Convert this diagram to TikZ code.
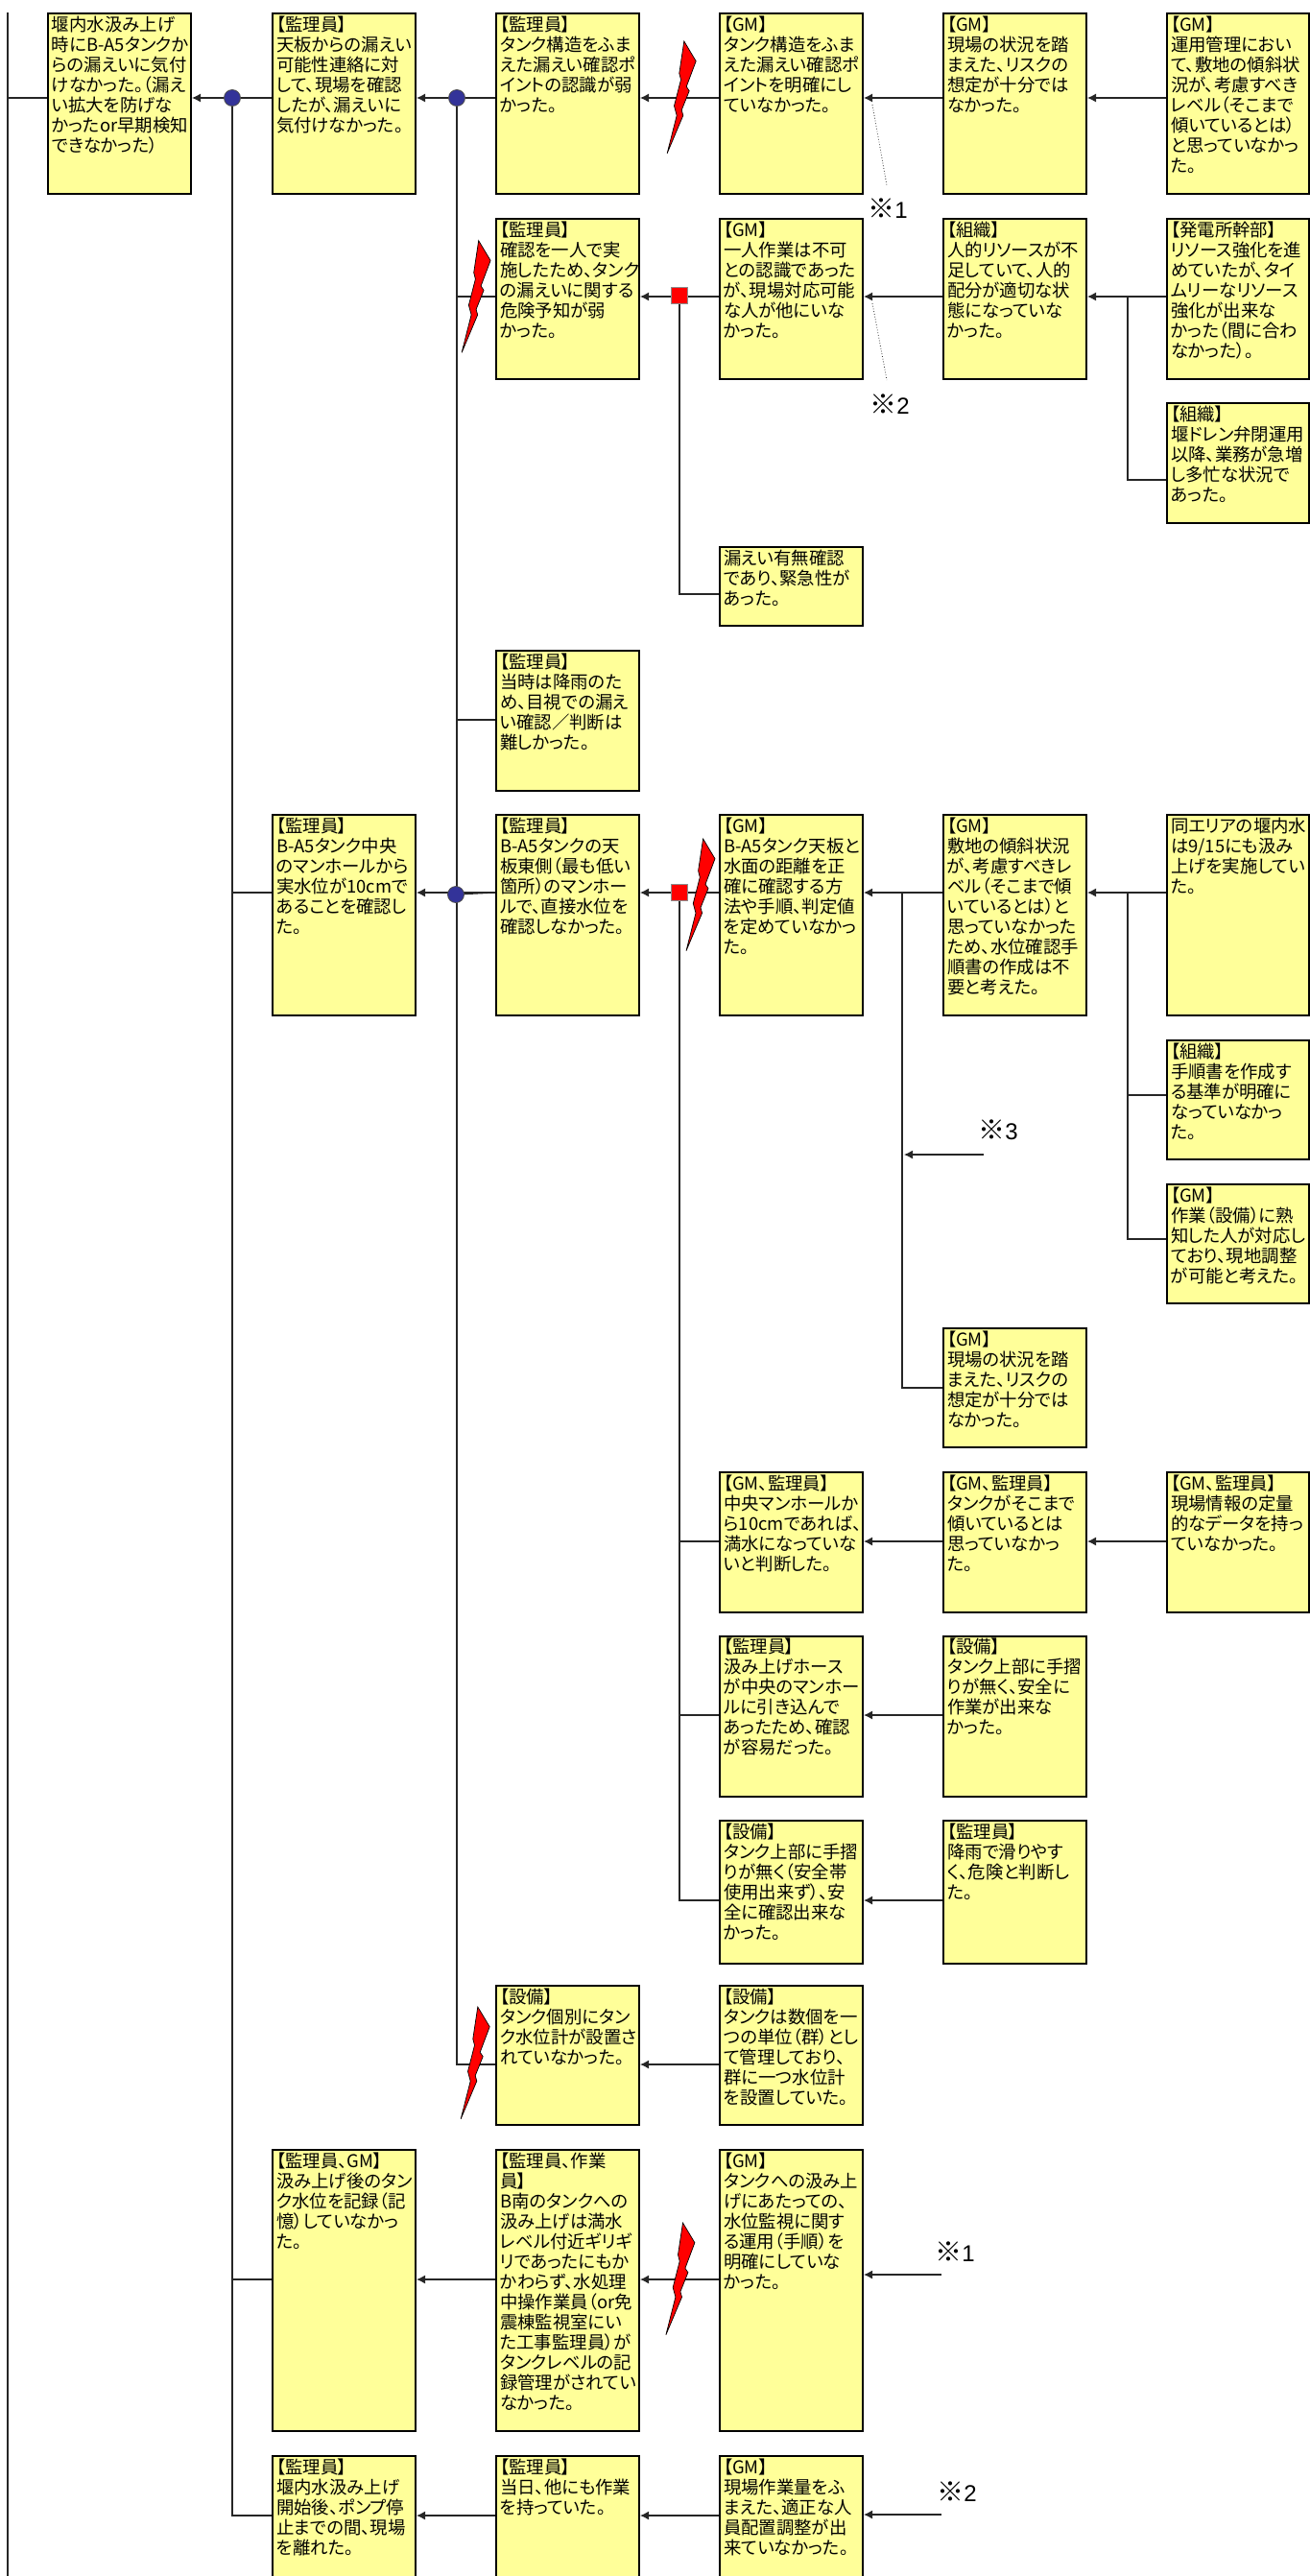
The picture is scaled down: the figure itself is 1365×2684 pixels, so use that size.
\documentclass[tikz,border=0pt]{standalone}
\usepackage{fontspec}
\setmainfont[RawFeature=+palt]{Noto Sans CJK JP}
\newfontfamily\markfont{Liberation Sans}
\newfontfamily\komefont{Noto Sans CJK JP}
\usetikzlibrary{arrows.meta}
\definecolor{note}{HTML}{FFFF99}
\definecolor{dotblue}{HTML}{333399}
\definecolor{boltred}{HTML}{FF0000}
\pgfdeclarelayer{back}
\pgfsetlayers{back,main}
\newcommand{\refsign}[1]{{\komefont\fontsize{14}{14}\selectfont ※}{\markfont #1}}

\begin{document}
\begin{tikzpicture}[
  x=.5pt,y=-.5pt,
  line join=miter,
  notebox/.style={draw=black, fill=note, line width=1pt, anchor=north west, align=left,
    text width=70.5pt, inner xsep=2pt, inner ysep=1pt, text height=8.2pt,
    font=\fontsize{9.2}{10.5}\selectfont},
  tall/.style={text depth=#1*.5pt-10.2pt},
  lastcol/.style={text width=69.75pt},
  link/.style={draw=black!85, line width=.6pt},
  pointer/.style={link, -{Latex[length=4.5pt,width=4.5pt]}},
  dotjoin/.style={circle, draw=black!70, fill=dotblue, line width=.4pt, inner sep=0pt, minimum width=8pt, minimum height=8.5pt},
  sqjoin/.style={rectangle, draw=black!45, fill=boltred, line width=.4pt, inner sep=0pt, minimum size=8.5pt},
  refmark/.style={font=\fontsize{12}{12}\selectfont, inner sep=0pt},
  bolt/.pic={
    \draw[fill=boltred, draw=black, line width=.35pt]
      (0,0) -- (12.4,20.7) -- (2.4,47.3) -- (5.4,51.7) -- (-2.6,71.7) -- (-1,77.3) -- (-17.6,116.7)
      -- (-7.6,77.3) -- (-10.3,67.3) -- (-3.3,40) -- (-5,33.3) -- cycle;
  }
]
\clip (0,0) rectangle (1365,2684);

% row heights of the connectors
\coordinate (y1) at (0,102);
\coordinate (y2) at (0,309);
\coordinate (y3) at (0,500);
\coordinate (y4) at (0,619);
\coordinate (y5) at (0,750);
\coordinate (y6) at (0,930);
\coordinate (y7) at (0,1141);
\coordinate (y8) at (0,1291);
\coordinate (y9) at (0,1446);
\coordinate (y10) at (0,1606);
\coordinate (y11) at (0,1787);
\coordinate (y12) at (0,1980);
\coordinate (y13) at (0,2151);
\coordinate (y14) at (0,2375);
\coordinate (y15) at (0,2621);

% first block
\node[notebox,tall=188] (a1) at (49,13) {堰内水汲み上げ\\\mbox{時にB-A5タンクか}\\らの漏えいに気付\\けなかった。（漏え\\い拡大を防げな\\かったor早期検知\\できなかった）};
\node[notebox,tall=188] (b1) at (283,13) {【監理員】\\天板からの漏えい\\可能性連絡に対\\して、現場を確認\\したが、漏えいに\\気付けなかった。};
\node[notebox,tall=188] (c1) at (516,13) {【監理員】\\タンク構造をふま\\えた漏えい確認ポ\\イントの認識が弱\\かった。};
\node[notebox,tall=188] (d1) at (749,13) {【GM】\\タンク構造をふま\\えた漏えい確認ポ\\イントを明確にし\\ていなかった。};
\node[notebox,tall=188] (e1) at (982,13) {【GM】\\現場の状況を踏\\まえた、リスクの\\想定が十分では\\なかった。};
\node[notebox,lastcol,tall=188] (f1) at (1215,13) {【GM】\\運用管理におい\\て、敷地の傾斜状\\況が、考慮すべき\\レベル（そこまで\\傾いているとは）\\と思っていなかっ\\た。};
\node[notebox,tall=167] (c2) at (516,227) {【監理員】\\確認を一人で実\\施したため、タンク\\の漏えいに関する\\危険予知が弱\\かった。};
\node[notebox,tall=167] (d2) at (749,227) {【GM】\\一人作業は不可\\との認識であった\\が、現場対応可能\\な人が他にいな\\かった。};
\node[notebox,tall=167] (e2) at (982,227) {【組織】\\人的リソースが不\\足していて、人的\\配分が適切な状\\態になっていな\\かった。};
\node[notebox,lastcol,tall=167] (f2) at (1215,227) {【発電所幹部】\\リソース強化を進\\めていたが、タイ\\ムリーなリソース\\強化が出来な\\かった（間に合わ\\なかった）。};
\node[notebox,lastcol,tall=125] (f3) at (1215,419) {【組織】\\堰ドレン弁閉運用\\以降、業務が急増\\し多忙な状況で\\あった。};
\node[notebox,tall=82] (d3) at (749,569) {漏えい有無確認\\であり、緊急性が\\あった。};
\node[notebox,tall=146] (c4) at (516,677) {【監理員】\\当時は降雨のた\\め、目視での漏え\\い確認／判断は\\難しかった。};

% second block
\node[notebox,tall=209] (b5) at (283,848) {【監理員】\\\mbox{B-A5タンク中央}\\のマンホールから\\実水位が10cmで\\あることを確認し\\た。};
\node[notebox,tall=209] (c5) at (516,848) {【監理員】\\\mbox{B-A5タンクの天}\\板東側（最も低い\\箇所）のマンホー\\ルで、直接水位を\\確認しなかった。};
\node[notebox,tall=209] (d5) at (749,848) {【GM】\\\mbox{B-A5タンク天板と}\\水面の距離を正\\確に確認する方\\法や手順、判定値\\を定めていなかっ\\た。};
\node[notebox,tall=209] (e5) at (982,848) {【GM】\\敷地の傾斜状況\\が、考慮すべきレ\\ベル（そこまで傾\\いているとは）と\\思っていなかった\\ため、水位確認手\\順書の作成は不\\要と考えた。};
\node[notebox,lastcol,tall=209] (f5) at (1215,848) {同エリアの堰内水\\は9/15にも汲み\\上げを実施してい\\た。};
\node[notebox,lastcol,tall=124] (f6) at (1215,1083) {【組織】\\手順書を作成す\\る基準が明確に\\なっていなかっ\\た。};
\node[notebox,lastcol,tall=124] (f7) at (1215,1233) {【GM】\\作業（設備）に熟\\知した人が対応し\\ており、現地調整\\が可能と考えた。};
\node[notebox,tall=124] (e8) at (982,1383) {【GM】\\現場の状況を踏\\まえた、リスクの\\想定が十分では\\なかった。};
\node[notebox,tall=146] (d9) at (749,1533) {【GM、監理員】\\中央マンホールか\\ら10cmであれば、\\満水になっていな\\いと判断した。};
\node[notebox,tall=146] (e9) at (982,1533) {【GM、監理員】\\タンクがそこまで\\傾いているとは\\思っていなかっ\\た。};
\node[notebox,lastcol,tall=146] (f9) at (1215,1533) {【GM、監理員】\\現場情報の定量\\的なデータを持っ\\ていなかった。};
\node[notebox,tall=167] (d10) at (749,1703.5) {【監理員】\\汲み上げホース\\が中央のマンホー\\ルに引き込んで\\あったため、確認\\が容易だった。};
\node[notebox,tall=167] (e10) at (982,1703.5) {【設備】\\タンク上部に手摺\\りが無く、安全に\\作業が出来な\\かった。};
\node[notebox,tall=149] (d11) at (749,1896) {【設備】\\タンク上部に手摺\\りが無く（安全帯\\使用出来ず）、安\\全に確認出来な\\かった。};
\node[notebox,tall=149] (e11) at (982,1896) {【監理員】\\降雨で滑りやす\\く、危険と判断し\\た。};
\node[notebox,tall=145] (c12) at (516,2068) {【設備】\\タンク個別にタン\\ク水位計が設置さ\\れていなかった。};
\node[notebox,tall=145] (d12) at (749,2068) {【設備】\\タンクは数個を一\\つの単位（群）とし\\て管理しており、\\群に一つ水位計\\を設置していた。};

% last block
\node[notebox,tall=293] (b13) at (283,2239) {【監理員、GM】\\汲み上げ後のタン\\ク水位を記録（記\\憶）していなかっ\\た。};
\node[notebox,tall=293] (c13) at (516,2239) {【監理員、作業\\員】\\B南のタンクへの\\汲み上げは満水\\レベル付近ギリギ\\リであったにもか\\かわらず、水処理\\中操作業員（or免\\震棟監視室にい\\た工事監理員）が\\タンクレベルの記\\録管理がされてい\\なかった。};
\node[notebox,tall=293] (d13) at (749,2239) {【GM】\\タンクへの汲み上\\げにあたっての、\\水位監視に関す\\る運用（手順）を\\明確にしていな\\かった。};
\node[notebox,tall=140] (b14) at (283,2558) {【監理員】\\堰内水汲み上げ\\開始後、ポンプ停\\止までの間、現場\\を離れた。};
\node[notebox,tall=140] (c14) at (516,2558) {【監理員】\\当日、他にも作業\\を持っていた。};
\node[notebox,tall=140] (d14) at (749,2558) {【GM】\\現場作業量をふ\\まえた、適正な人\\員配置調整が出\\来ていなかった。};

% joins
\node[dotjoin] (j1) at (242,102) {};
\node[dotjoin] (j2) at (476,102) {};
\node[dotjoin] (j3) at (475,932) {};
\node[sqjoin] (s1) at (708,308) {};
\node[sqjoin] (s2) at (708,930) {};

% free ends and bends
\coordinate (top0) at (8,13);
\coordinate (bot0) at (8,2684);
\coordinate (k1) at (1175,309);
\coordinate (k2) at (1175,930);
\coordinate (k3) at (940,930);
\coordinate (from3) at (1025,1203);
\coordinate (to3) at (942,1203);

\begin{pgfonlayer}{back}
  % first block connectors
  \draw[link] (top0) -- (bot0);
  \draw[link] (a1.west |- y1) -- (top0 |- y1);
  \draw[pointer] (b1.west |- y1) -- (a1.east |- y1);
  \draw[pointer] (c1.west |- y1) -- (b1.east |- y1);
  \draw[pointer] (d1.west |- y1) -- (c1.east |- y1);
  \draw[pointer] (e1.west |- y1) -- (d1.east |- y1);
  \draw[pointer] (f1.west |- y1) -- (e1.east |- y1);
  \draw[pointer] (d2.west |- y2) -- (c2.east |- y2);
  \draw[pointer] (e2.west |- y2) -- (d2.east |- y2);
  \draw[pointer] (f2.west |- y2) -- (e2.east |- y2);
  \draw[link] (k1) |- (f3.west |- y3);

  % trunks under the dots
  \draw[link] (j1) |- (b5.west |- y6);
  \draw[link] (j1) |- (b13.west |- y14);
  \draw[link] (j1) |- (b14.west |- y15);
  \draw[link] (j2) |- (c2.west |- y2);
  \draw[link] (j2) |- (c4.west |- y5);
  \draw[link] (j2) |- (c12.west |- y13);
  \draw[link] (j3) -- (c5.west |- y6);
  \draw[link] (s1) |- (d3.west |- y4);

  % second block connectors
  \draw[pointer] (c5.west |- y6) -- (b5.east |- y6);
  \draw[pointer] (d5.west |- y6) -- (c5.east |- y6);
  \draw[pointer] (e5.west |- y6) -- (d5.east |- y6);
  \draw[pointer] (f5.west |- y6) -- (e5.east |- y6);
  \draw[link] (k2) |- (f6.west |- y7);
  \draw[link] (k2) |- (f7.west |- y8);
  \draw[link] (k3) |- (e8.west |- y9);
  \draw[pointer] (from3) -- (to3);
  \draw[link] (s2) |- (d9.west |- y10);
  \draw[link] (s2) |- (d10.west |- y11);
  \draw[link] (s2) |- (d11.west |- y12);
  \draw[pointer] (e9.west |- y10) -- (d9.east |- y10);
  \draw[pointer] (f9.west |- y10) -- (e9.east |- y10);
  \draw[pointer] (e10.west |- y11) -- (d10.east |- y11);
  \draw[pointer] (e11.west |- y12) -- (d11.east |- y12);
  \draw[pointer] (d12.west |- y13) -- (c12.east |- y13);

  % last block connectors
  \draw[pointer] (c13.west |- y14) -- (b13.east |- y14);
  \draw[pointer] (d13.west |- y14) -- (c13.east |- y14);
  \draw[pointer] (c14.west |- y15) -- (b14.east |- y15);
  \draw[pointer] (d14.west |- y15) -- (c14.east |- y15);
\end{pgfonlayer}

% reference marks
\coordinate (n1a) at (909,109);
\coordinate (n1b) at (924,193);
\coordinate (n2a) at (909,316);
\coordinate (n2b) at (924,396);
\draw[black!80, line width=.4pt, densely dotted] (n1a) -- (n1b);
\draw[black!80, line width=.4pt, densely dotted] (n2a) -- (n2b);
\node[refmark] (m1) at (925,217) {\refsign{1}};
\node[refmark] (m2) at (927,421) {\refsign{2}};
\node[refmark] (m3) at (1040,1177) {\refsign{3}};
\node[refmark] (m4) at (995,2346) {\refsign{1}};
\node[refmark] (m5) at (997,2596) {\refsign{2}};
\coordinate (from4) at (981,2370);
\coordinate (from5) at (981,2620);
\draw[pointer] (from4) -- (d13.east |- from4);
\draw[pointer] (from5) -- (d14.east |- from5);

% lightning marks
\foreach \x/\y in {712.8/43,498.7/250.7,732.6/874,497.8/2091,711.5/2316}{
  \pic at (\x,\y) {bolt};
}
\end{tikzpicture}
\end{document}
